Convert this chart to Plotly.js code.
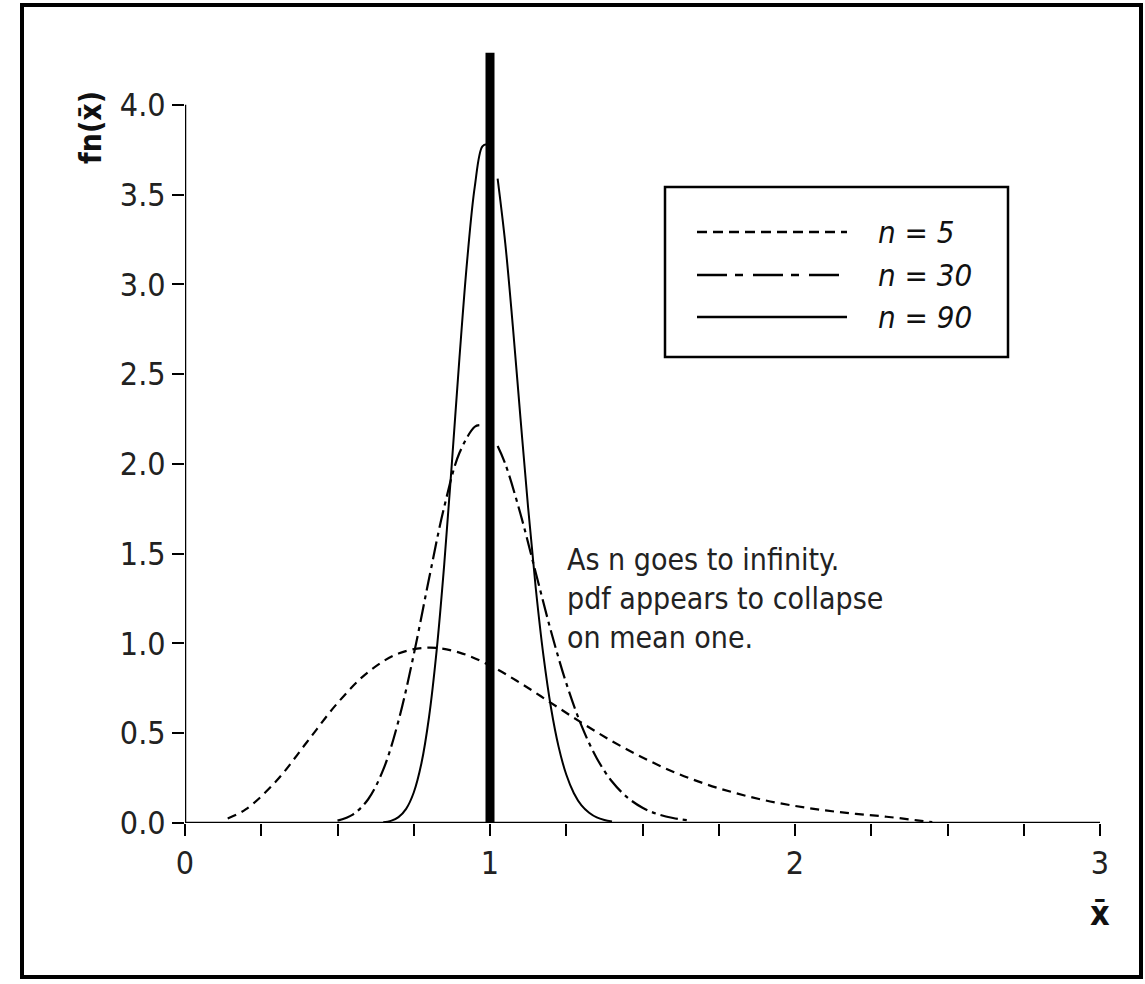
<!DOCTYPE html>
<html>
<head>
<meta charset="utf-8">
<script src="https://cdn.plot.ly/plotly-3.0.1.min.js"></script>
<style>
  html, body { margin: 0; padding: 0; background: #fff; }
  #chart { width: 1145px; height: 984px; }
</style>
</head>
<body>
<div id="chart"></div>
<script>
// ---- data ----
const x5 = [0.14, 0.2, 0.3, 0.4, 0.5, 0.6, 0.7, 0.8, 0.9, 1.0, 1.1, 1.2, 1.3, 1.4, 1.5, 1.6, 1.7, 1.8, 1.9, 2.0, 2.1, 2.2, 2.3, 2.4, 2.45];
const y5 = [0.025, 0.077, 0.235, 0.451, 0.668, 0.840, 0.944, 0.977, 0.949, 0.877, 0.779, 0.669, 0.559, 0.456, 0.365, 0.286, 0.221, 0.169, 0.127, 0.095, 0.070, 0.051, 0.035, 0.015, 0.005];

const x30 = [0.5, 0.55, 0.6, 0.65, 0.7, 0.75, 0.8, 0.85, 0.9, 0.95, 0.965, 1.0, 1.025, 1.05, 1.1, 1.15, 1.2, 1.25, 1.3, 1.35, 1.4, 1.45, 1.5, 1.55, 1.6, 1.65];
const y30 = [0.013, 0.047, 0.131, 0.297, 0.569, 0.938, 1.360, 1.761, 2.062, 2.207, 2.216, null, 2.10, 2.001, 1.721, 1.394, 1.068, 0.779, 0.542, 0.361, 0.231, 0.143, 0.085, 0.049, 0.028, 0.015];

const x90 = [0.65, 0.675, 0.7, 0.725, 0.75, 0.775, 0.8, 0.825, 0.85, 0.875, 0.9, 0.925, 0.95, 0.975, 0.99, 1.0, 1.025, 1.05, 1.075, 1.1, 1.125, 1.15, 1.175, 1.2, 1.225, 1.25, 1.275, 1.3, 1.325, 1.35, 1.375, 1.4];
const y90 = [0.004, 0.012, 0.033, 0.079, 0.170, 0.331, 0.589, 0.960, 1.442, 2.005, 2.594, 3.131, 3.543, 3.769, 3.78, null, 3.589, 3.230, 2.764, 2.254, 1.756, 1.309, 0.935, 0.642, 0.424, 0.270, 0.166, 0.098, 0.057, 0.031, 0.017, 0.009];

const meanX = [1, 1];
const meanY = [0, 4.29];

const seriesNames = ['n = 5', 'n = 30', 'n = 90'];
const xTickVals = [0, 0.25, 0.5, 0.75, 1, 1.25, 1.5, 1.75, 2, 2.25, 2.5, 2.75, 3];
const xTickText = ['0', '', '', '', '1', '', '', '', '2', '', '', '', '3'];
const yTickVals = [0, 0.5, 1, 1.5, 2, 2.5, 3, 3.5, 4];
const yTickText = ['0.0', '0.5', '1.0', '1.5', '2.0', '2.5', '3.0', '3.5', '4.0'];

// ---- layout helpers (pixel -> paper) ----
const W = 1145, H = 984, L = 185, R = 1100, T = 51, B = 823;
const px = v => (v - L) / (R - L);
const py = v => (B - v) / (B - T);

const FONT = '"Liberation Sans Narrow", "DejaVu Sans Condensed", "Liberation Sans", Arial, sans-serif';
const dash5 = '9px,6px';
const dash30 = '18px,5px,4px,5px';

const traces = [
  { x: x5, y: y5, name: seriesNames[0], type: 'scatter', mode: 'lines',
    line: { color: '#000', width: 2.2, dash: dash5, shape: 'spline' }, connectgaps: false },
  { x: x30, y: y30, name: seriesNames[1], type: 'scatter', mode: 'lines',
    line: { color: '#000', width: 2.2, dash: dash30, shape: 'spline' }, connectgaps: false },
  { x: x90, y: y90, name: seriesNames[2], type: 'scatter', mode: 'lines',
    line: { color: '#000', width: 2, shape: 'spline' }, connectgaps: false },
  { x: meanX, y: meanY, name: 'mean', type: 'scatter', mode: 'lines',
    line: { color: '#000', width: 9 } }
];

const legRows = [232, 275, 317];
const legDash = ['10px,6px', '30px,8px,8px,10px', 'solid'];

const shapes = [
  // outer frame
  { type: 'rect', xref: 'paper', yref: 'paper', x0: px(22), x1: px(1141), y0: py(977), y1: py(5),
    line: { color: '#000', width: 4 } },
  // axis lines
  { type: 'line', xref: 'x', yref: 'y', x0: 0, x1: 0, y0: 0, y1: 4, line: { color: '#000', width: 2.5 } },
  { type: 'line', xref: 'x', yref: 'y', x0: 0, x1: 3, y0: 0, y1: 0, line: { color: '#000', width: 2.5 } },
  // legend box
  { type: 'rect', xref: 'paper', yref: 'paper', x0: px(665), x1: px(1008), y0: py(357), y1: py(187),
    line: { color: '#000', width: 2.5 }, fillcolor: '#fff', layer: 'above' }
];
legRows.forEach((r, i) => {
  shapes.push({ type: 'line', xref: 'paper', yref: 'paper', x0: px(697), x1: px(847), y0: py(r), y1: py(r),
    line: { color: '#000', width: 2.5, dash: legDash[i] } });
});

const annotations = [
  { xref: 'paper', yref: 'paper', x: px(90), y: py(128), text: '<b>fn(x\u0304)</b>', textangle: -90,
    showarrow: false, xanchor: 'center', yanchor: 'middle', font: { family: FONT, size: 30, color: '#111' } },
  { xref: 'paper', yref: 'paper', x: px(1100), y: py(913), text: '<b>x\u0304</b>',
    showarrow: false, xanchor: 'center', yanchor: 'middle', font: { family: FONT, size: 34, color: '#111' } },
  { xref: 'paper', yref: 'paper', x: px(565), y: py(598),
    text: 'As n goes to infinity.<br>pdf appears to collapse<br>on mean one.',
    align: 'left', showarrow: false, xanchor: 'left', yanchor: 'middle',
    font: { family: FONT, size: 30, color: '#222' } }
];
legRows.forEach((r, i) => {
  annotations.push({ xref: 'paper', yref: 'paper', x: px(876), y: py(r), text: '<i>' + seriesNames[i] + '</i>',
    showarrow: false, xanchor: 'left', yanchor: 'middle', font: { family: FONT, size: 31, color: '#111' } });
});

const axisCommon = {
  showgrid: false, zeroline: false, showline: false,
  ticks: 'outside', ticklen: 12, tickwidth: 2, tickcolor: '#000',
  tickfont: { family: FONT, size: 32, color: '#222' }, fixedrange: true
};

const layout = {
  width: W, height: H,
  margin: { l: L, r: W - R, t: T, b: H - B, pad: 0 },
  paper_bgcolor: '#fff', plot_bgcolor: '#fff',
  showlegend: false,
  xaxis: Object.assign({}, axisCommon, { range: [0, 3], tickmode: 'array', tickvals: xTickVals, ticktext: xTickText }),
  yaxis: Object.assign({}, axisCommon, { range: [0, 4.3], tickmode: 'array', tickvals: yTickVals, ticktext: yTickText }),
  shapes: shapes,
  annotations: annotations
};

Plotly.newPlot('chart', traces, layout, { displayModeBar: false, staticPlot: true });
</script>
</body>
</html>
